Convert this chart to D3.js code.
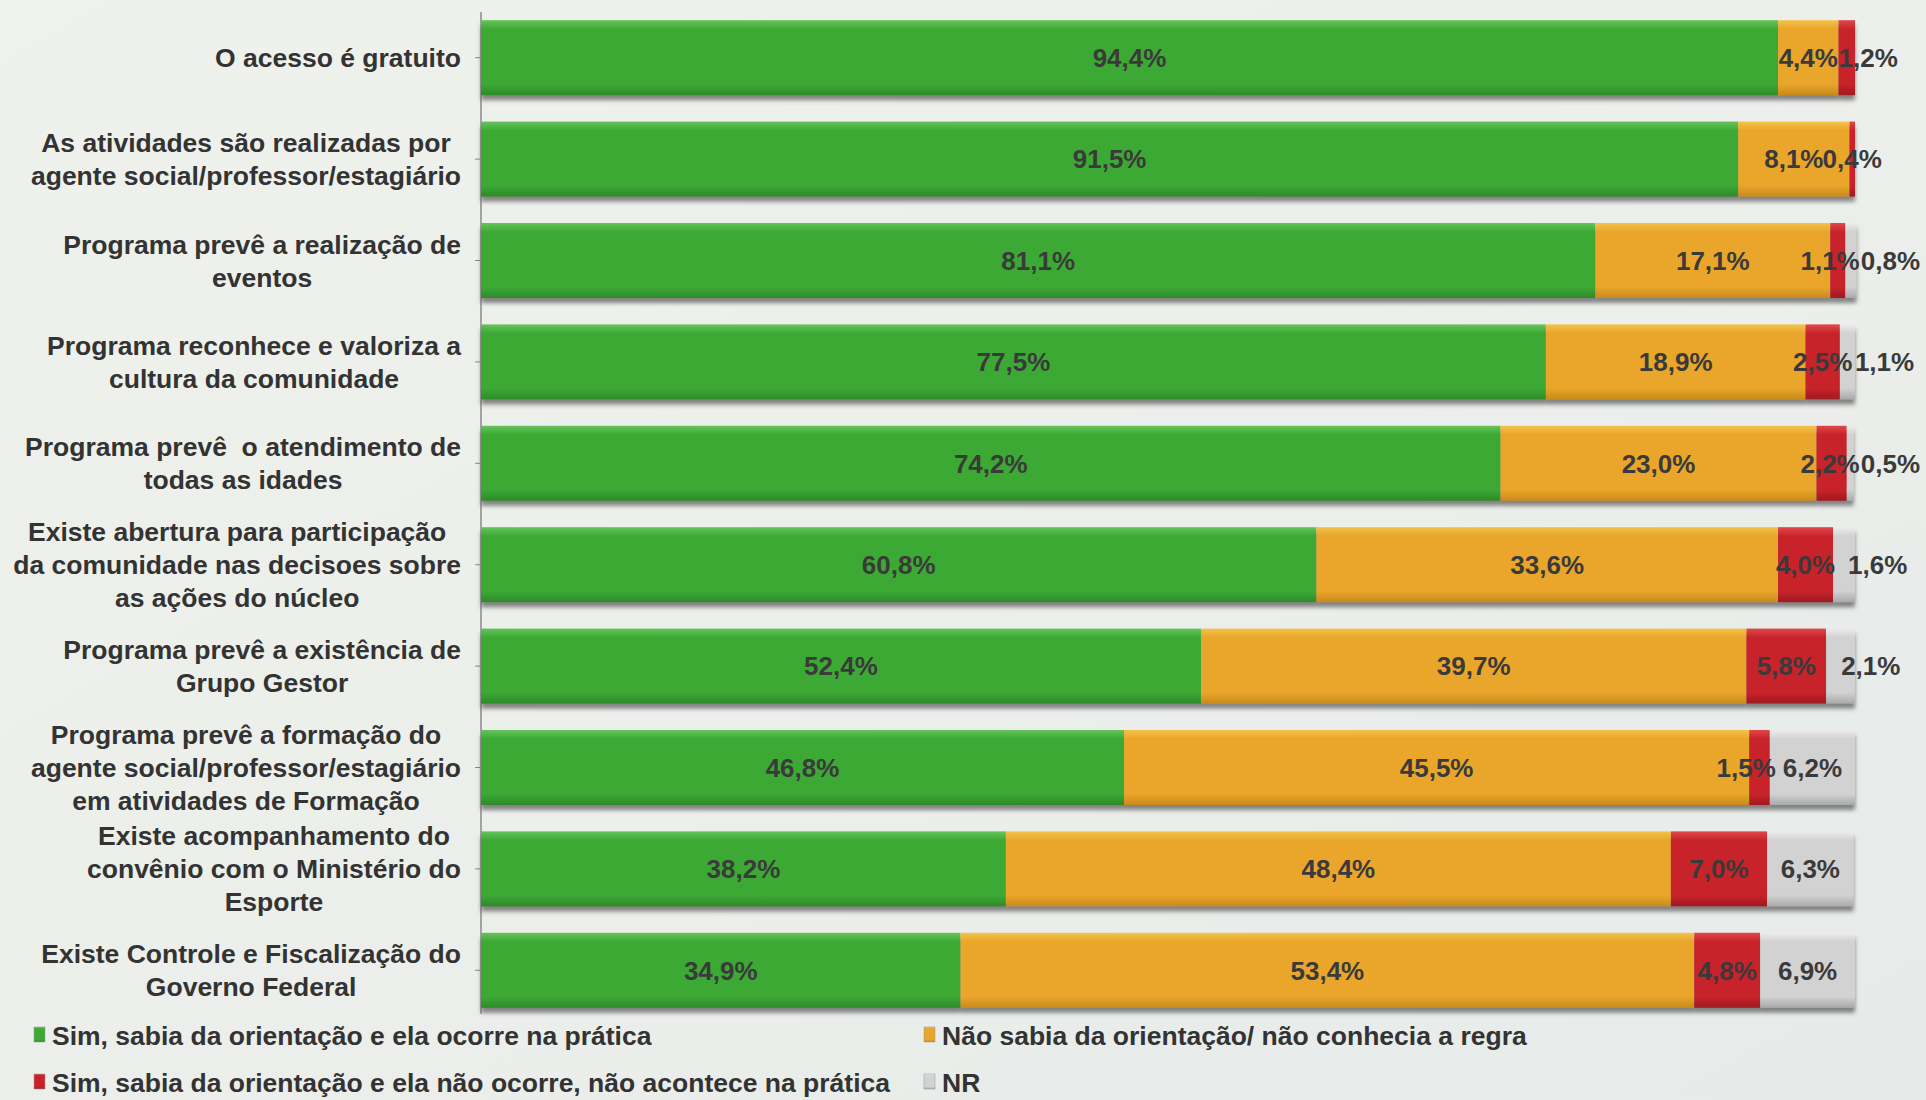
<!DOCTYPE html>
<html><head><meta charset="utf-8">
<script src="https://cdn.jsdelivr.net/npm/d3@7"></script>
<style>
html,body{margin:0;padding:0;background:#edefeb;}
svg{display:block;}
text{font-family:"Liberation Sans",Arial,sans-serif;font-weight:bold;white-space:pre;}
</style></head>
<body>
<svg id="c" width="1926" height="1100"></svg>
<script>
const categories = [
  ["O acesso é gratuito"],
  ["As atividades são realizadas por","agente social/professor/estagiário"],
  ["Programa prevê a realização de","eventos"],
  ["Programa reconhece e valoriza a","cultura da comunidade"],
  ["Programa prevê  o atendimento de","todas as idades"],
  ["Existe abertura para participação","da comunidade nas decisoes sobre","as ações do núcleo"],
  ["Programa prevê a existência de","Grupo Gestor"],
  ["Programa prevê a formação do","agente social/professor/estagiário","em atividades de Formação"],
  ["Existe acompanhamento do","convênio com o Ministério do","Esporte"],
  ["Existe Controle e Fiscalização do","Governo Federal"]
];
const seriesNames = [
  "Sim, sabia da orientação e ela ocorre na prática",
  "Não sabia da orientação/ não conhecia a regra",
  "Sim, sabia da orientação e ela não ocorre, não acontece na prática",
  "NR"
];
const simOcorre   = [94.4, 91.5, 81.1, 77.5, 74.2, 60.8, 52.4, 46.8, 38.2, 34.9];
const naoSabia    = [4.4, 8.1, 17.1, 18.9, 23.0, 33.6, 39.7, 45.5, 48.4, 53.4];
const simNaoOcorre= [1.2, 0.4, 1.1, 2.5, 2.2, 4.0, 5.8, 1.5, 7.0, 4.8];
const nr          = [0, 0, 0.8, 1.1, 0.5, 1.6, 2.1, 6.2, 6.3, 6.9];

const series = [simOcorre, naoSabia, simNaoOcorre, nr];
const colors = [
  {top:"#66c45a", mid:"#3ca935", bot:"#2e8a2a"},
  {top:"#f3c24a", mid:"#e9a62a", bot:"#c98a1c"},
  {top:"#e0484a", mid:"#c8232a", bot:"#9e1a1f"},
  {top:"#ececec", mid:"#d2d2d2", bot:"#a9a9a9"}
];
const W = 1926;

const svg = d3.select("#c");
const defs = svg.append("defs");
const bg = defs.append("linearGradient").attr("id","bg").attr("x1",0).attr("y1",0).attr("x2",1).attr("y2",1);
bg.append("stop").attr("offset","0%").attr("stop-color","#eff1ec");
bg.append("stop").attr("offset","60%").attr("stop-color","#ebeeea");
bg.append("stop").attr("offset","100%").attr("stop-color","#e6ebea");
svg.append("rect").attr("width",W).attr("height",1100).attr("fill","url(#bg)");

colors.forEach((c,i)=>{
  const g = defs.append("linearGradient").attr("id","g"+i).attr("x1",0).attr("y1",0).attr("x2",0).attr("y2",1);
  g.append("stop").attr("offset","0%").attr("stop-color",c.top);
  g.append("stop").attr("offset","12%").attr("stop-color",c.mid);
  g.append("stop").attr("offset","85%").attr("stop-color",c.mid);
  g.append("stop").attr("offset","100%").attr("stop-color",c.bot);
});
const f = defs.append("filter").attr("id","sh").attr("x","-5%").attr("y","-20%").attr("width","110%").attr("height","150%");
f.append("feDropShadow").attr("dx",0).attr("dy",5).attr("stdDeviation",2).attr("flood-color","#555").attr("flood-opacity",0.7);

const x = d3.scaleLinear().domain([0,100]).range([481,1855]);
const idx = d3.range(categories.length);
const y = d3.scaleBand().domain(idx).range([7,1021]).paddingInner(0.26).paddingOuter(0.13);

// axis
const axis = d3.axisLeft(y).tickSize(6).tickSizeOuter(0).tickFormat("");
const ag = svg.append("g").attr("transform",`translate(${x(0)},0)`).call(axis);
const yTop = y(0) - y.step()*0.08, yBot = y(idx.length-1) + y.bandwidth() + y.step()*0.06;
ag.select(".domain").attr("d",`M0,${yTop}V${yBot}`).attr("stroke","#8a8a8a").attr("stroke-width",1.5);
ag.selectAll(".tick line").attr("stroke","#8a8a8a");

const rows = idx.map(i => {
  let acc = 0;
  return series.map((s,k)=>{ const v=s[i]; const seg={i,k,x0:acc,x1:acc+v,v}; acc+=v; return seg; });
});

const barsG = svg.append("g");
rows.forEach(r=>{
  const g = barsG.append("g").attr("filter","url(#sh)");
  g.selectAll("rect").data(r.filter(d=>d.v>0)).enter().append("rect")
    .attr("x",d=>x(d.x0)).attr("width",d=>Math.max(0,x(d.x1)-x(d.x0)))
    .attr("y",d=>y(d.i)).attr("height",y.bandwidth())
    .attr("fill",d=>"url(#g"+d.k+")");
});

// value labels
const fmt = v => v.toFixed(1).replace(".",",")+"%";
const lab = svg.append("g").attr("font-size",26).attr("fill","#3a3a3a");
rows.forEach(r=>{
  const nz = r.filter(d=>d.v>0);
  const placed = [];
  nz.forEach((d,j)=>{
    const xs = x(d.x0), xe = x(d.x1), w = xe-xs;
    const t = lab.append("text").text(fmt(d.v))
      .attr("y", y(d.i)+y.bandwidth()/2).attr("dy","0.36em");
    const tw = t.node().getComputedTextLength();
    const last = j===nz.length-1;
    let left;
    if (last && d.k===3 && w < tw) {
      left = xs+15;
      const p = placed[placed.length-1];
      if (p && p.left + p.tw + 1 > left) left = p.left + p.tw + 1;
      left = Math.min(left, W - 6 - tw);
    }
    else if (last && d.k===2 && w < tw && d.v>1) left = xs;
    else left = (xs+xe)/2 - tw/2;
    placed.push({t,left,tw,k:d.k,fits:w>=tw});
  });
  for (let j=placed.length-1;j>0;j--){
    const a=placed[j-1], b=placed[j];
    const gap = b.fits ? 7 : 1;
    if (a.k===2 && b.k===3 && a.left+a.tw > b.left-gap){
      a.left = b.left - gap - a.tw;
    }
  }
  placed.forEach(p=>p.t.attr("x",p.left).attr("text-anchor","start"));
});

// category labels
const right = 461, lh = 33;
const cg = svg.append("g").attr("font-size",26.5).attr("fill","#333");
categories.forEach((lines,i)=>{
  const g = cg.append("g");
  const ts = lines.map(l=>g.append("text").text(l));
  const maxW = d3.max(ts, t=>t.node().getComputedTextLength());
  const cx = right - maxW/2;
  const cy = y(i)+y.bandwidth()/2;
  ts.forEach((t,j)=>{
    t.attr("x",cx).attr("text-anchor","middle")
     .attr("y", cy + (j-(lines.length-1)/2)*lh).attr("dy","0.36em");
  });
});

// legend
const legPos = [[34,1035],[924,1035],[34,1082],[924,1082]];
const lg = svg.append("g").attr("font-size",26.5).attr("fill","#333");
seriesNames.forEach((n,k)=>{
  const [lx,ly] = legPos[k];
  lg.append("rect").attr("x",lx).attr("y",ly-8).attr("width",11).attr("height",15)
    .attr("fill","url(#g"+k+")").attr("stroke","#999").attr("stroke-width",0.5);
  lg.append("text").attr("x",lx+18).attr("y",ly).attr("dy","0.36em").text(n);
});
</script>
</body></html>
